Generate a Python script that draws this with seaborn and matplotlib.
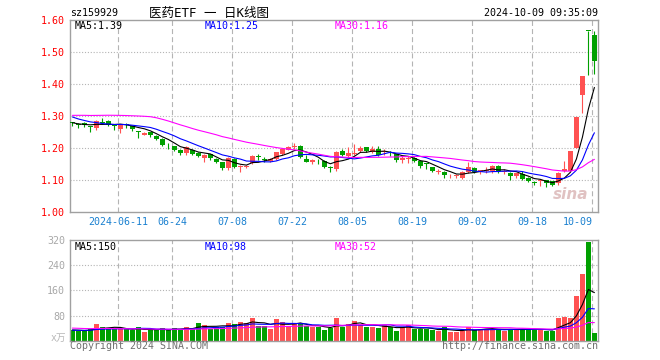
import numpy as np
import pandas as pd
import matplotlib
matplotlib.use("Agg")
import matplotlib.pyplot as plt
import seaborn as sns

# ---------------- data ----------------
dates = [
    "2024-05-29", "2024-05-30", "2024-05-31",
    "2024-06-03", "2024-06-04", "2024-06-05", "2024-06-06", "2024-06-07",
    "2024-06-11", "2024-06-12", "2024-06-13", "2024-06-14",
    "2024-06-17", "2024-06-18", "2024-06-19", "2024-06-20", "2024-06-21",
    "2024-06-24", "2024-06-25", "2024-06-26", "2024-06-27", "2024-06-28",
    "2024-07-01", "2024-07-02", "2024-07-03", "2024-07-04", "2024-07-05",
    "2024-07-08", "2024-07-09", "2024-07-10", "2024-07-11", "2024-07-12",
    "2024-07-15", "2024-07-16", "2024-07-17", "2024-07-18", "2024-07-19",
    "2024-07-22", "2024-07-23", "2024-07-24", "2024-07-25", "2024-07-26",
    "2024-07-29", "2024-07-30", "2024-07-31", "2024-08-01", "2024-08-02",
    "2024-08-05", "2024-08-06", "2024-08-07", "2024-08-08", "2024-08-09",
    "2024-08-12", "2024-08-13", "2024-08-14", "2024-08-15", "2024-08-16",
    "2024-08-19", "2024-08-20", "2024-08-21", "2024-08-22", "2024-08-23",
    "2024-08-26", "2024-08-27", "2024-08-28", "2024-08-29", "2024-08-30",
    "2024-09-02", "2024-09-03", "2024-09-04", "2024-09-05", "2024-09-06",
    "2024-09-09", "2024-09-10", "2024-09-11", "2024-09-12", "2024-09-13",
    "2024-09-18", "2024-09-19", "2024-09-20",
    "2024-09-23", "2024-09-24", "2024-09-25", "2024-09-26", "2024-09-27",
    "2024-09-30", "2024-10-08", "2024-10-09",
]

open_ = [1.280, 1.274, 1.279, 1.268, 1.262, 1.278, 1.283, 1.271, 1.258, 1.274,
         1.268, 1.252, 1.242, 1.250, 1.238, 1.228, 1.209, 1.206, 1.194, 1.183,
         1.195, 1.183, 1.168, 1.180, 1.167, 1.156, 1.137, 1.166, 1.140, 1.140,
         1.152, 1.174, 1.164, 1.158, 1.165, 1.180, 1.193, 1.204, 1.206, 1.166,
         1.155, 1.160, 1.159, 1.138, 1.133, 1.190, 1.175, 1.182, 1.190, 1.202,
         1.188, 1.198, 1.187, 1.184, 1.181, 1.162, 1.166, 1.170, 1.158, 1.150,
         1.141, 1.124, 1.125, 1.111, 1.112, 1.106, 1.124, 1.138, 1.125, 1.127,
         1.129, 1.143, 1.126, 1.123, 1.111, 1.119, 1.106, 1.091, 1.098, 1.099,
         1.096, 1.091, 1.127, 1.129, 1.200, 1.365, 1.566, 1.554]
close = [1.278, 1.272, 1.271, 1.266, 1.283, 1.277, 1.273, 1.268, 1.272, 1.272,
         1.258, 1.250, 1.248, 1.240, 1.228, 1.209, 1.208, 1.193, 1.183, 1.204,
         1.182, 1.175, 1.178, 1.168, 1.157, 1.136, 1.168, 1.141, 1.144, 1.144,
         1.175, 1.172, 1.163, 1.166, 1.187, 1.197, 1.204, 1.206, 1.173, 1.157,
         1.161, 1.158, 1.141, 1.137, 1.189, 1.177, 1.183, 1.184, 1.199, 1.190,
         1.196, 1.177, 1.189, 1.183, 1.163, 1.168, 1.167, 1.160, 1.144, 1.149,
         1.127, 1.125, 1.116, 1.113, 1.113, 1.124, 1.142, 1.125, 1.130, 1.132,
         1.143, 1.127, 1.128, 1.111, 1.121, 1.104, 1.096, 1.090, 1.099, 1.090,
         1.083, 1.123, 1.135, 1.190, 1.296, 1.424, 1.565, 1.471]
high = [1.281, 1.277, 1.281, 1.269, 1.286, 1.295, 1.286, 1.274, 1.274, 1.277,
        1.269, 1.252, 1.249, 1.251, 1.240, 1.230, 1.217, 1.207, 1.196, 1.206,
        1.198, 1.188, 1.180, 1.182, 1.170, 1.157, 1.172, 1.168, 1.146, 1.148,
        1.177, 1.180, 1.172, 1.168, 1.189, 1.199, 1.205, 1.217, 1.208, 1.177,
        1.167, 1.165, 1.161, 1.144, 1.190, 1.196, 1.204, 1.211, 1.206, 1.203,
        1.205, 1.205, 1.198, 1.190, 1.182, 1.175, 1.175, 1.173, 1.159, 1.152,
        1.142, 1.133, 1.127, 1.118, 1.118, 1.128, 1.156, 1.140, 1.131, 1.142,
        1.148, 1.146, 1.135, 1.124, 1.122, 1.127, 1.108, 1.096, 1.101, 1.101,
        1.098, 1.125, 1.158, 1.191, 1.298, 1.425, 1.566, 1.566]
low = [1.268, 1.264, 1.267, 1.250, 1.256, 1.275, 1.269, 1.256, 1.248, 1.262,
       1.252, 1.231, 1.240, 1.235, 1.225, 1.205, 1.198, 1.190, 1.178, 1.178,
       1.178, 1.172, 1.156, 1.164, 1.152, 1.130, 1.130, 1.136, 1.126, 1.136,
       1.149, 1.164, 1.157, 1.156, 1.163, 1.178, 1.193, 1.196, 1.170, 1.155,
       1.150, 1.150, 1.139, 1.125, 1.128, 1.175, 1.173, 1.177, 1.186, 1.186,
       1.183, 1.175, 1.177, 1.175, 1.157, 1.154, 1.152, 1.157, 1.137, 1.135,
       1.124, 1.118, 1.107, 1.107, 1.107, 1.104, 1.122, 1.122, 1.118, 1.122,
       1.122, 1.122, 1.119, 1.100, 1.106, 1.100, 1.093, 1.083, 1.080, 1.079,
       1.081, 1.083, 1.125, 1.127, 1.199, 1.309, 1.429, 1.431]
volume = [34, 30, 30, 38, 54, 44, 38, 39, 36, 36,
          34, 44, 29, 35, 33, 41, 33, 41, 36, 44,
          38, 57, 51, 38, 45, 45, 57, 53, 60, 55,
          73, 47, 48, 37, 69, 60, 47, 53, 53, 47,
          42, 45, 35, 40, 73, 45, 53, 63, 49, 45,
          44, 41, 49, 43, 31, 45, 49, 37, 37, 37,
          35, 30, 43, 28, 28, 32, 44, 34, 38, 38,
          38, 35, 32, 38, 35, 38, 36, 36, 35, 32,
          32, 73, 76, 73, 141, 211, 313, 26]

# sessions before the visible window (needed for the moving averages)
prior_close = [1.268, 1.272, 1.280, 1.276, 1.270, 1.265, 1.274, 1.281, 1.285, 1.279,
               1.272, 1.276, 1.277, 1.330, 1.352, 1.368, 1.372, 1.365, 1.368, 1.360,
               1.335, 1.318, 1.310, 1.305, 1.307, 1.290, 1.280, 1.272, 1.275]
prior_volume = [48, 52, 45, 40, 38, 44, 50, 47, 42, 39, 41, 46, 43, 40, 38, 45, 42, 44,
                39, 41, 35, 31, 34, 32, 34, 33, 36, 32, 35]

ma_windows = [5, 10, 30]
tick_dates = ["2024-06-11", "2024-06-24", "2024-07-08", "2024-07-22", "2024-08-05",
              "2024-08-19", "2024-09-02", "2024-09-18", "2024-10-09"]
tick_labels = ["2024-06-11", "06-24", "07-08", "07-22", "08-05", "08-19", "09-02",
               "09-18", "10-09"]
price_ticks = [1.00, 1.10, 1.20, 1.30, 1.40, 1.50, 1.60]
volume_ticks = [80, 160, 240, 320]
price_ma_text = ["MA5:1.39", "MA10:1.25", "MA30:1.16"]
volume_ma_text = ["MA5:150", "MA10:98", "MA30:52"]

# ---------------- build frame ----------------
n = len(dates)
df = pd.DataFrame({"idx": np.arange(n), "open": open_, "close": close,
                   "high": high, "low": low, "volume": volume})
df["dir"] = np.where(df["close"] >= df["open"], "up", "down")
np_ = len(prior_close)
c_all = pd.Series(prior_close + close)
v_all = pd.Series(prior_volume + volume)
for w in ma_windows:
    df[f"ma{w}"] = c_all.rolling(w).mean().to_numpy()[np_:]
    df[f"vma{w}"] = v_all.rolling(w).mean().to_numpy()[np_:]

UP = "#ff5252"
DOWN = "#00a000"
MA_COLORS = ["#000000", "#0000ff", "#ff00ff"]
FRAME = "#a0a0a0"
GRID = "#b4b4b4"
XLAB = "#1a80d0"

sns.set_style("white")
plt.rcParams["font.family"] = ["DejaVu Sans Mono", "Noto Sans CJK SC"]

fig = plt.figure(figsize=(6.6, 3.6), dpi=100)
W, H = 660.0, 360.0
L, R = 70.0, 597.7
ax1 = fig.add_axes([L / W, 1 - 212 / H, (R - L) / W, 192 / H])
ax2 = fig.add_axes([L / W, 1 - 340.7 / H, (R - L) / W, 100.7 / H])

xmin, xmax = -0.4, n - 0.45
grid_pos = [dates.index(d) - 0.35 for d in tick_dates]

# ---------- price panel ----------
cols = np.where(df["dir"] == "up", UP, DOWN)
ax1.vlines(df["idx"], df["low"], df["high"], colors=cols, lw=0.8, zorder=2)
body = np.maximum((df["close"] - df["open"]).abs(), 0.0028)
bottom = np.minimum(df["open"], df["close"])
ax1.bar(df["idx"], body, bottom=bottom, width=0.78, color=cols, lw=0, zorder=3)
for w, c in zip(ma_windows, MA_COLORS):
    sns.lineplot(x=df["idx"], y=df[f"ma{w}"], color=c, lw=0.8, ax=ax1, zorder=4)

ax1.set_xlim(xmin, xmax)
ax1.set_ylim(price_ticks[0], price_ticks[-1])
for p in grid_pos:
    ax1.axvline(p, color=GRID, lw=0.8, ls=(0, (4.5, 2.8)), zorder=0)
for t in price_ticks[1:-1]:
    ax1.axhline(t, color=GRID, lw=0.8, ls=(0, (1, 1.6)), zorder=0)
ax1.set_xticks(grid_pos, tick_labels)
ax1.set_yticks(price_ticks, [f"{t:.2f}" for t in price_ticks])
ax1.tick_params(axis="x", length=0, pad=3.5, labelsize=7.2, labelcolor=XLAB)
ax1.tick_params(axis="y", length=0, pad=3.5, labelsize=7.2, labelcolor="#ff0000")
ax1.get_xticklabels()[-1].set_ha("right")
ax1.set_xlabel("")
ax1.set_ylabel("")
for s in ax1.spines.values():
    s.set_color(FRAME)
    s.set_linewidth(1.0)
for i, (txt, c) in enumerate(zip(price_ma_text, MA_COLORS)):
    ax1.text([0.009, 0.256, 0.502][i], 0.968, txt, color=c, fontsize=7.2,
             transform=ax1.transAxes, ha="left", va="center")
ax1.text(0.982, 0.09, "sina", transform=ax1.transAxes, ha="right", va="center",
         fontsize=11, fontweight="bold", fontstyle="italic", color="#c89090",
         alpha=0.55, family="DejaVu Sans", zorder=1)

# ---------- volume panel ----------
sns.barplot(data=df, x="idx", y="volume", hue="dir",
            palette={"up": UP, "down": DOWN}, dodge=False, native_scale=True,
            width=0.83, saturation=1, legend=False, errorbar=None,
            linewidth=0, ax=ax2, zorder=2)
for w, c in zip(ma_windows, MA_COLORS):
    sns.lineplot(x=df["idx"], y=df[f"vma{w}"], color=c, lw=0.8, ax=ax2, zorder=4)
ax2.set_xlim(xmin, xmax)
ax2.set_ylim(0, volume_ticks[-1])
for p in grid_pos:
    ax2.axvline(p, color=GRID, lw=0.8, ls=(0, (4.5, 2.8)), zorder=0)
for t in volume_ticks[:-1]:
    ax2.axhline(t, color=GRID, lw=0.8, ls=(0, (1, 1.6)), zorder=0)
ax2.set_xticks([])
ax2.set_yticks(volume_ticks, [str(t) for t in volume_ticks])
ax2.tick_params(axis="y", length=0, pad=3.5, labelsize=7.2, labelcolor="#a8a8a8")
ax2.set_xlabel("")
ax2.set_ylabel("")
for s in ax2.spines.values():
    s.set_color(FRAME)
    s.set_linewidth(1.0)
for i, (txt, c) in enumerate(zip(volume_ma_text, MA_COLORS)):
    ax2.text([0.009, 0.256, 0.502][i], 0.93, txt, color=c, fontsize=7.2,
             transform=ax2.transAxes, ha="left", va="center")

# ---------- header / footer text ----------
fig.text(L / W, 1 - 13 / H, "sz159929", fontsize=7.2, ha="left", va="center", color="black")
fig.text(209 / W, 1 - 13 / H, "医药ETF 一 日K线图", fontsize=9, ha="center", va="center",
         color="black")
fig.text(R / W, 1 - 13 / H, "2024-10-09 09:35:09", fontsize=7.2, ha="right", va="center",
         color="black")
fig.text(66 / W, 1 - 338 / H, "x万", fontsize=7, ha="right", va="center", color="#b8b8b8")
fig.text(L / W, 1 - 346 / H, "Copyright 2024 SINA.COM", fontsize=7.2, ha="left",
         va="center", color="#707070")
fig.text(R / W, 1 - 346 / H, "http://finance.sina.com.cn", fontsize=7.2, ha="right",
         va="center", color="#707070")

fig.savefig("out.png", dpi=100)
